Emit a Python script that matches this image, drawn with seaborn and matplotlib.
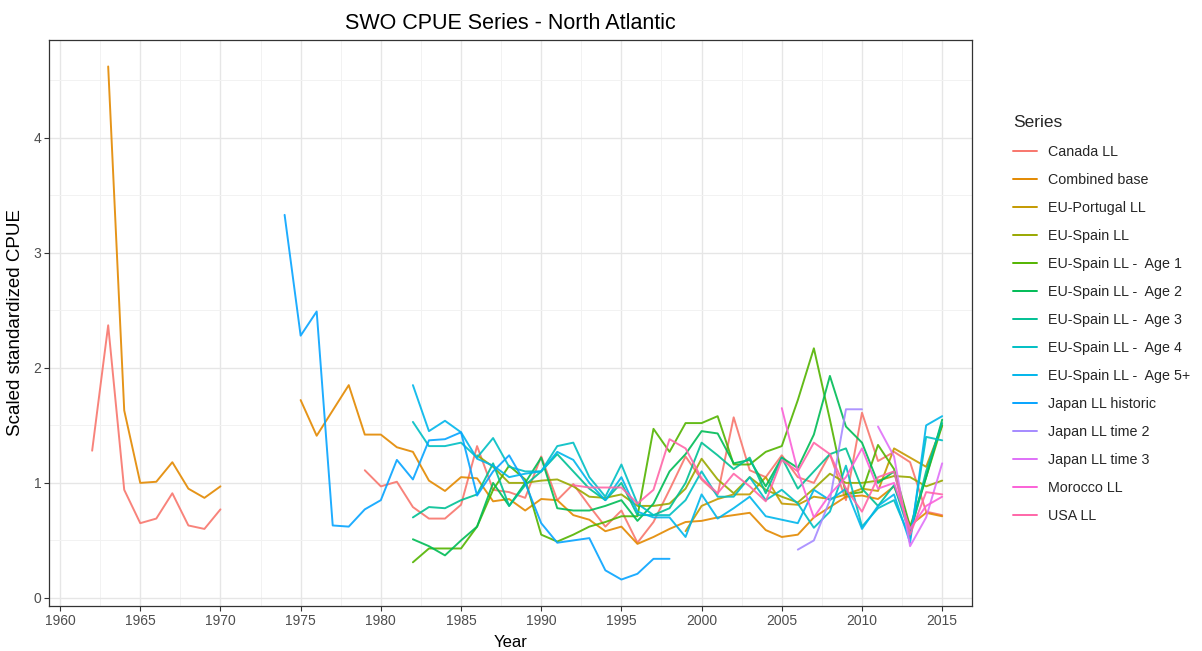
import numpy as np
import pandas as pd
import matplotlib
matplotlib.use("Agg")
import matplotlib.pyplot as plt
from matplotlib.lines import Line2D
from matplotlib.ticker import MultipleLocator
import seaborn as sns

# ---- data: scaled standardized CPUE by index series ----
series_names = [
    "Canada LL", "Combined base", "EU-Portugal LL", "EU-Spain LL",
    "EU-Spain LL -  Age 1", "EU-Spain LL -  Age 2", "EU-Spain LL -  Age 3",
    "EU-Spain LL -  Age 4", "EU-Spain LL -  Age 5+", "Japan LL historic",
    "Japan LL time 2", "Japan LL time 3", "Morocco LL", "USA LL",
]

canada_early_years = list(range(1962, 1971))
canada_early = [1.28, 2.37, 0.94, 0.65, 0.69, 0.91, 0.63, 0.60, 0.77]
canada_late_years = list(range(1979, 2016))
canada_late = [1.11, 0.97, 1.01, 0.79, 0.69, 0.69, 0.81, 1.32, 0.94, 0.92,
               0.87, 1.23, 0.85, 0.99, 0.80, 0.62, 0.76, 0.48, 0.66, 0.94,
               1.23, 1.03, 0.90, 1.57, 1.11, 1.05, 1.24, 1.05, 1.00, 1.25,
               0.85, 1.61, 1.19, 1.27, 1.18, 0.75, 0.72]

combined_early_years = list(range(1963, 1971))
combined_early = [4.62, 1.63, 1.00, 1.01, 1.18, 0.95, 0.87, 0.97]
combined_late_years = list(range(1975, 2016))
combined_late = [1.72, 1.41, 1.63, 1.85, 1.42, 1.42, 1.31, 1.27, 1.02, 0.93,
                 1.05, 1.04, 0.84, 0.86, 0.76, 0.86, 0.85, 0.72, 0.68, 0.58,
                 0.62, 0.47, 0.53, 0.60, 0.66, 0.67, 0.70, 0.72, 0.74, 0.59,
                 0.53, 0.55, 0.70, 0.79, 0.88, 0.89, 0.86, 0.97, 0.63, 0.74,
                 0.71]

portugal_years = list(range(1999, 2016))
portugal = [0.58, 0.80, 0.86, 0.90, 0.90, 1.05, 0.82, 0.81, 0.88, 0.86,
            0.90, 0.95, 0.93, 1.30, 1.22, 1.14, 1.50]

spain_years = list(range(1986, 2016))
spain = [1.24, 1.14, 1.00, 1.00, 1.02, 1.03, 0.97, 0.88, 0.87, 0.90,
         0.80, 0.80, 0.82, 0.95, 1.21, 1.03, 0.91, 1.05, 0.94, 0.88,
         0.83, 0.95, 1.08, 1.00, 1.00, 1.02, 1.06, 1.05, 0.97, 1.02]

age_years = list(range(1982, 2016))
age1 = [0.31, 0.43, 0.43, 0.43, 0.62, 0.94, 1.15, 1.03, 0.55, 0.49,
        0.55, 0.62, 0.66, 0.71, 0.71, 1.47, 1.27, 1.52, 1.52, 1.58,
        1.16, 1.16, 1.27, 1.32, 1.72, 2.17, 1.55, 0.90, 0.92, 1.33,
        1.12, 0.62, 1.05, 1.50]
age2 = [0.51, 0.45, 0.37, 0.50, 0.62, 1.00, 0.80, 1.00, 1.22, 0.78,
        0.76, 0.76, 0.80, 0.85, 0.67, 0.82, 1.10, 1.25, 1.45, 1.43,
        1.17, 1.20, 0.97, 1.22, 1.13, 1.42, 1.93, 1.49, 1.35, 1.00,
        1.10, 0.58, 1.05, 1.55]
age3 = [0.70, 0.79, 0.78, 0.85, 0.90, 1.17, 0.80, 0.98, 1.10, 1.25,
        1.10, 0.95, 0.85, 1.00, 0.72, 0.72, 0.78, 1.00, 1.35, 1.24,
        1.12, 1.22, 0.91, 1.22, 0.95, 1.10, 1.25, 1.30, 0.95, 0.80,
        0.98, 0.55, 1.10, 1.52]
age4 = [1.53, 1.32, 1.32, 1.35, 1.22, 1.39, 1.14, 1.10, 1.10, 1.32,
        1.35, 1.05, 0.88, 1.16, 0.82, 0.72, 0.72, 0.85, 1.10, 0.88,
        0.88, 1.05, 0.85, 0.94, 0.82, 0.61, 0.75, 1.15, 0.62, 0.78,
        0.85, 0.52, 1.40, 1.37]
age5 = [1.85, 1.45, 1.54, 1.44, 1.21, 1.15, 1.05, 1.08, 1.10, 1.27,
        1.20, 1.00, 0.85, 1.05, 0.75, 0.70, 0.70, 0.53, 0.90, 0.69,
        0.78, 0.88, 0.71, 0.68, 0.65, 0.94, 0.85, 0.95, 0.60, 0.80,
        0.90, 0.48, 1.50, 1.58]

japan_hist_years = list(range(1974, 1999))
japan_hist = [3.33, 2.28, 2.49, 0.63, 0.62, 0.77, 0.85, 1.20, 1.03, 1.37,
              1.38, 1.44, 0.89, 1.10, 1.24, 1.00, 0.65, 0.48, 0.50, 0.52,
              0.24, 0.16, 0.21, 0.34, 0.34]

japan_t2_years = list(range(2006, 2011))
japan_t2 = [0.42, 0.50, 0.85, 1.64, 1.64]

japan_t3_years = list(range(2011, 2016))
japan_t3 = [1.49, 1.23, 0.45, 0.70, 1.17]

morocco_years = list(range(2005, 2016))
morocco = [1.65, 1.10, 0.70, 0.90, 1.05, 1.30, 0.95, 1.00, 0.60, 0.80, 0.88]

usa_years = list(range(1992, 2016))
usa = [0.98, 0.96, 0.96, 0.96, 0.82, 0.94, 1.38, 1.30, 1.04, 0.91,
       1.08, 0.97, 0.84, 1.20, 1.10, 1.35, 1.25, 0.95, 0.75, 1.05,
       1.10, 0.55, 0.92, 0.90]

# (series, segment id, years, values); a new segment breaks the line at gaps
pieces = [
    ("Canada LL", 0, canada_early_years, canada_early),
    ("Canada LL", 1, canada_late_years, canada_late),
    ("Combined base", 0, combined_early_years, combined_early),
    ("Combined base", 1, combined_late_years, combined_late),
    ("EU-Portugal LL", 0, portugal_years, portugal),
    ("EU-Spain LL", 0, spain_years, spain),
    ("EU-Spain LL -  Age 1", 0, age_years, age1),
    ("EU-Spain LL -  Age 2", 0, age_years, age2),
    ("EU-Spain LL -  Age 3", 0, age_years, age3),
    ("EU-Spain LL -  Age 4", 0, age_years, age4),
    ("EU-Spain LL -  Age 5+", 0, age_years, age5),
    ("Japan LL historic", 0, japan_hist_years, japan_hist),
    ("Japan LL time 2", 0, japan_t2_years, japan_t2),
    ("Japan LL time 3", 0, japan_t3_years, japan_t3),
    ("Morocco LL", 0, morocco_years, morocco),
    ("USA LL", 0, usa_years, usa),
]

frames = []
for name, seg, yrs, vals in pieces:
    frames.append(pd.DataFrame({"Year": yrs, "CPUE": vals,
                                "Series": name, "segment": f"{name}#{seg}"}))
df = pd.concat(frames, ignore_index=True)


# ---- default discrete hue palette (HCL, L=65, C=100) ----
def hcl_to_hex(h, c=100.0, l=65.0):
    hr = np.deg2rad(h)
    u, v = c * np.cos(hr), c * np.sin(hr)
    Xn, Yn, Zn = 95.047, 100.0, 108.883
    un = 4 * Xn / (Xn + 15 * Yn + 3 * Zn)
    vn = 9 * Yn / (Xn + 15 * Yn + 3 * Zn)
    Y = Yn * ((l + 16) / 116) ** 3 if l > 8 else Yn * l / 903.3
    up = u / (13 * l) + un
    vp = v / (13 * l) + vn
    X = Y * 9 * up / (4 * vp)
    Z = Y * (12 - 3 * up - 20 * vp) / (4 * vp)
    xyz = np.array([X, Y, Z]) / 100.0
    m = np.array([[3.2404542, -1.5371385, -0.4985314],
                  [-0.9692660, 1.8760108, 0.0415560],
                  [0.0556434, -0.2040259, 1.0572252]])
    rgb = m @ xyz
    rgb = np.where(rgb <= 0.0031308, 12.92 * rgb,
                   1.055 * np.power(np.clip(rgb, 0, None), 1 / 2.4) - 0.055)
    rgb = np.clip(rgb, 0, 1)
    return "#%02X%02X%02X" % tuple(int(round(x * 255)) for x in rgb)


n = len(series_names)
hues = np.linspace(15, 375, n + 1)[:n]
palette = {name: hcl_to_hex(h) for name, h in zip(series_names, hues)}

# ---- figure ----
sns.set_theme(style="white")
plt.rcParams["font.family"] = ["Liberation Sans", "DejaVu Sans"]

fig = plt.figure(figsize=(12.02, 6.51), dpi=100)
ax = fig.add_axes([49 / 1202, 1 - 606 / 651, (972 - 49) / 1202, (606 - 40) / 651])

sns.lineplot(data=df, x="Year", y="CPUE", hue="Series", units="segment",
             estimator=None, hue_order=series_names, palette=palette,
             linewidth=1.4, alpha=0.9, legend=False, ax=ax)

ax.set_xlim(1959.31, 2016.86)
ax.set_ylim(-0.07, 4.85)
ax.xaxis.set_major_locator(MultipleLocator(5))
ax.xaxis.set_minor_locator(MultipleLocator(2.5))
ax.yaxis.set_major_locator(MultipleLocator(1))
ax.yaxis.set_minor_locator(MultipleLocator(0.5))

ax.grid(which="major", color="#E6E6E6", linewidth=1.0)
ax.grid(which="minor", color="#F2F2F2", linewidth=0.7)
ax.set_axisbelow(True)
for s in ax.spines.values():
    s.set_color("#333333")
    s.set_linewidth(0.9)

ax.tick_params(axis="both", which="major", length=3.5, width=0.8,
               color="#333333", labelcolor="#4D4D4D", labelsize=10,
               bottom=True, left=True, pad=2)
ax.tick_params(axis="both", which="minor", length=0)

ax.set_xlabel("Year", fontsize=12, color="black", labelpad=5)
ax.set_ylabel("Scaled standardized CPUE", fontsize=13.5, color="black", labelpad=7)
ax.set_title("SWO CPUE Series - North Atlantic", fontsize=15.5, color="black", pad=8)

handles = [Line2D([], [], color=palette[nm], linewidth=1.4) for nm in series_names]
leg = fig.legend(handles, series_names, title="Series", loc="upper left",
                 bbox_to_anchor=(1007 / 1202, 1 - 109 / 651), frameon=False,
                 fontsize=10.3, title_fontsize=12.5, handlelength=1.7,
                 handletextpad=0.8, labelspacing=0.98, borderaxespad=0)
leg._legend_box.align = "left"
leg._legend_box.sep = 11

fig.savefig("out.png", dpi=100)
